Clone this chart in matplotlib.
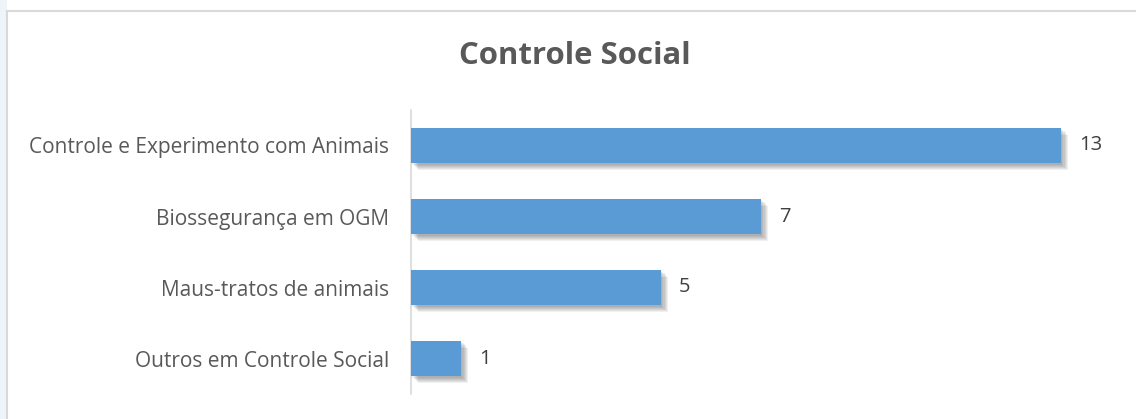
import matplotlib
matplotlib.use("Agg")
import matplotlib.pyplot as plt
import matplotlib.patheffects as pe
from matplotlib.patches import Rectangle

plt.rcParams['font.family'] = ['Open Sans', 'DejaVu Sans']

# dados do painel
categorias = ["Controle e Experimento com Animais", "Biossegurança em OGM",
              "Maus-tratos de animais", "Outros em Controle Social"]
quantidades = [13, 7, 5, 1]
titulo = "Controle Social"

azul = "#5b9bd5"
cinza_texto = "#595959"

fig = plt.figure(figsize=(11.36, 4.19), dpi=100)
fig.patch.set_facecolor("white")

# faixa azulada na margem esquerda e moldura do gráfico
fig.patches.append(Rectangle((0, 0), 7 / 1136, 1, transform=fig.transFigure,
                             facecolor="#eef4fa", edgecolor="none", zorder=-2))
fig.patches.append(Rectangle((7 / 1136, -0.1), 1.2, 1 - 11 / 419 + 0.1,
                             transform=fig.transFigure, facecolor="white",
                             edgecolor="#d9d9d9", linewidth=1.5, zorder=-1))

ax = fig.add_axes([411 / 1136, 25 / 419, 700 / 1136, 284 / 419])
ax.set_facecolor("none")
ax.set_zorder(1)

y = list(range(len(categorias)))
# sombra suave: várias camadas deslocadas com pouca opacidade
sombra = [pe.SimplePatchShadow(offset=(d, -d), shadow_rgbFace="black", alpha=0.06)
          for d in (1, 1.8, 2.6, 3.4, 4.2, 5)]
barras = ax.barh(y, quantidades, height=0.5, color=azul, zorder=3)
for b in barras:
    b.set_path_effects(sombra + [pe.Normal()])

for yi, v in zip(y, quantidades):
    ax.annotate(str(v), (v, yi), xytext=(13, 0), textcoords="offset points",
                va="center", ha="left", fontsize=14.5, color="#404040")

ax.set_xlim(0, 14)
ax.set_ylim(len(categorias) - 0.5, -0.5)
ax.set_yticks(y)
ax.set_yticklabels(categorias, fontsize=15, color=cinza_texto)
ax.tick_params(axis="y", length=0, pad=16)
ax.set_xticks([])
for s in ("top", "right", "bottom"):
    ax.spines[s].set_visible(False)
ax.spines["left"].set_color("#d9d9d9")
ax.spines["left"].set_linewidth(1.2)

fig.text(575 / 1136, 1 - 56 / 419, titulo, ha="center", va="center",
         fontsize=22.4, fontweight="bold", color=cinza_texto)

fig.savefig("out.png", dpi=100)
